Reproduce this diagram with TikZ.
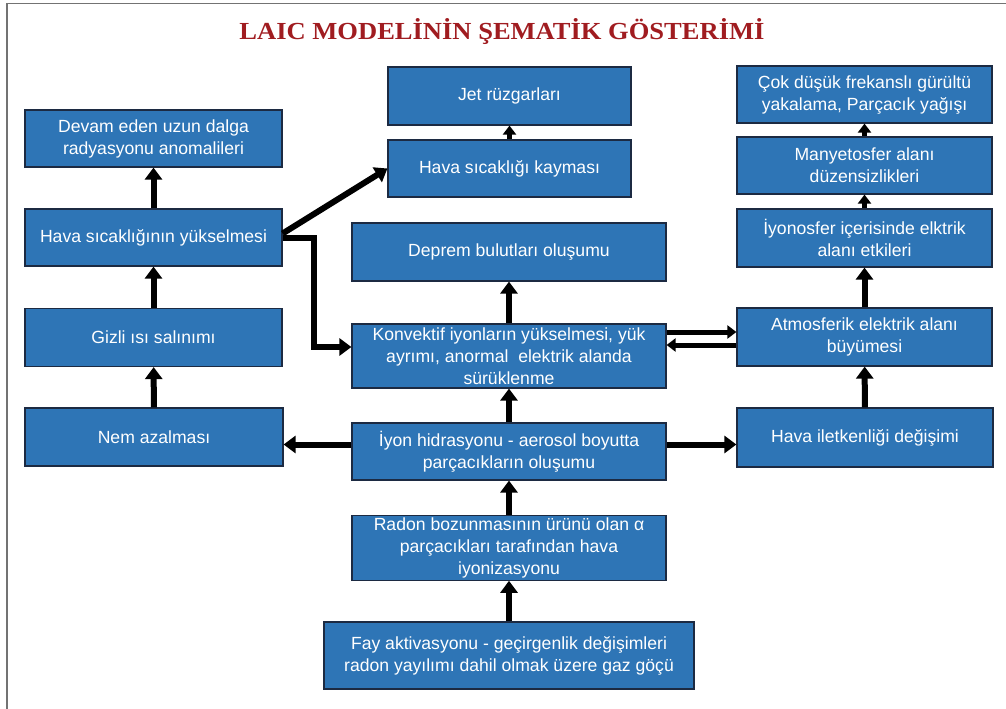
\documentclass[tikz,border=0pt]{standalone}
\usepackage{fontspec}
\setmainfont{Liberation Sans}
\newfontfamily\titlefont{Liberation Serif}
\usepackage{xcolor}
\usetikzlibrary{arrows.meta}
\definecolor{boxblue}{RGB}{46,117,182}
\definecolor{boxedge}{RGB}{28,42,66}
\definecolor{titlered}{RGB}{160,28,32}

\begin{document}
\begin{tikzpicture}[x=1pt, y=-1pt,
    kutu/.style={draw=boxedge, line width=1.2pt, fill=boxblue, text=white, align=center,
        inner sep=2pt, font=\fontsize{17.6}{22}\selectfont},
    ok/.style={line width=6pt, -{Triangle[width=17pt,length=12pt]}},
    kucukok/.style={line width=5pt, -{Triangle[width=13pt,length=9pt]}}]

    \useasboundingbox (0,0) rectangle (1006,709);
    % page frame
    \draw[black!55, line width=1.2pt] (7,709) -- (7,3.5) -- (1006,3.5);

    % title
    \node[anchor=base, text=titlered, inner sep=0pt] (baslik) at (502,39)
        {\resizebox{525pt}{21pt}{\titlefont\bfseries LAIC MODELİNİN ŞEMATİK GÖSTERİMİ}};

    % left column
    \node[kutu, minimum width=257pt, minimum height=57pt] (devam) at (153.5,138.5) {Devam eden uzun dalga\\radyasyonu anomalileri};
    \node[kutu, minimum width=257pt, minimum height=57pt] (hsy) at (153.5,237.5) {Hava sıcaklığının yükselmesi};
    \node[kutu, minimum width=257pt, minimum height=58pt] (gizli) at (153.5,337.5) {Gizli ısı salınımı};
    \node[kutu, minimum width=258pt, minimum height=58pt] (nem) at (154,437) {Nem azalması};

    % middle column
    \node[kutu, minimum width=243pt, minimum height=58pt] (jet) at (509.5,96) {Jet rüzgarları};
    \node[kutu, minimum width=243pt, minimum height=57pt] (hsk) at (509.5,168.5) {Hava sıcaklığı kayması};
    \node[kutu, minimum width=314pt, minimum height=58pt] (deprem) at (509,252) {Deprem bulutları oluşumu};
    \node[kutu, minimum width=314pt, minimum height=64pt] (konv) at (509,356) {Konvektif iyonların yükselmesi, yük\\ayrımı, anormal~~elektrik alanda\\sürüklenme};
    \node[kutu, minimum width=314pt, minimum height=57pt] (iyon) at (509,451.5) {İyon hidrasyonu - aerosol boyutta\\parçacıkların oluşumu};
    \node[kutu, minimum width=314pt, minimum height=64pt] (radon) at (509,548) {Radon bozunmasının ürünü olan α\\parçacıkları tarafından hava\\iyonizasyonu};
    \node[kutu, minimum width=370pt, minimum height=67pt] (fay) at (509,655.5) {Fay aktivasyonu - geçirgenlik değişimleri\\radon yayılımı dahil olmak üzere gaz göçü};

    % right column
    \node[kutu, minimum width=255pt, minimum height=57pt] (cok) at (864.5,94.5) {Çok düşük frekanslı gürültü\\yakalama, Parçacık yağışı};
    \node[kutu, minimum width=255pt, minimum height=57pt] (many) at (864.5,165.5) {Manyetosfer alanı\\düzensizlikleri};
    \node[kutu, minimum width=255pt, minimum height=58pt] (iyono) at (864.5,238) {İyonosfer içerisinde elktrik\\alanı etkileri};
    \node[kutu, minimum width=255pt, minimum height=58pt] (atmo) at (864.5,337) {Atmosferik elektrik alanı\\büyümesi};
    \node[kutu, minimum width=256pt, minimum height=59pt] (hil) at (865,437.5) {Hava iletkenliği değişimi};

    % arrows, left side
    \draw[ok] (hsy) -- (devam);
    \draw[ok] (gizli) -- (hsy);
    \draw[ok] (nem) -- (gizli);
    \draw[ok] ([yshift=4pt]hsy.east) -- (hsk.west);
    \draw[ok] (hsy.east) -- ++(31,0) |- ([yshift=9pt]konv.west);

    % arrows, middle
    \draw[kucukok] (hsk) -- (jet);
    \draw[ok] (konv) -- (deprem);
    \draw[ok] (iyon) -- (konv);
    \draw[ok] (radon) -- (iyon);
    \draw[ok] (fay) -- (radon);
    \coordinate (i1) at ([yshift=7pt]iyon.west);
    \coordinate (i2) at ([yshift=7pt]iyon.east);
    \draw[ok] (i1) -- (i1 -| nem.east);
    \draw[ok] (i2) -- (i2 -| hil.west);

    % arrows, right side
    \draw[ok] (hil) -- (atmo);
    \draw[ok] (atmo) -- (iyono);
    \draw[kucukok] (iyono) -- (many);
    \draw[kucukok] (many) -- (cok);
    \coordinate (a1) at ([yshift=5pt]atmo.west);
    \coordinate (a2) at ([yshift=-8pt]atmo.west);
    \draw[kucukok] (a1 -| konv.east) -- (a1);
    \draw[kucukok] (a2) -- (a2 -| konv.east);
\end{tikzpicture}
\end{document}
